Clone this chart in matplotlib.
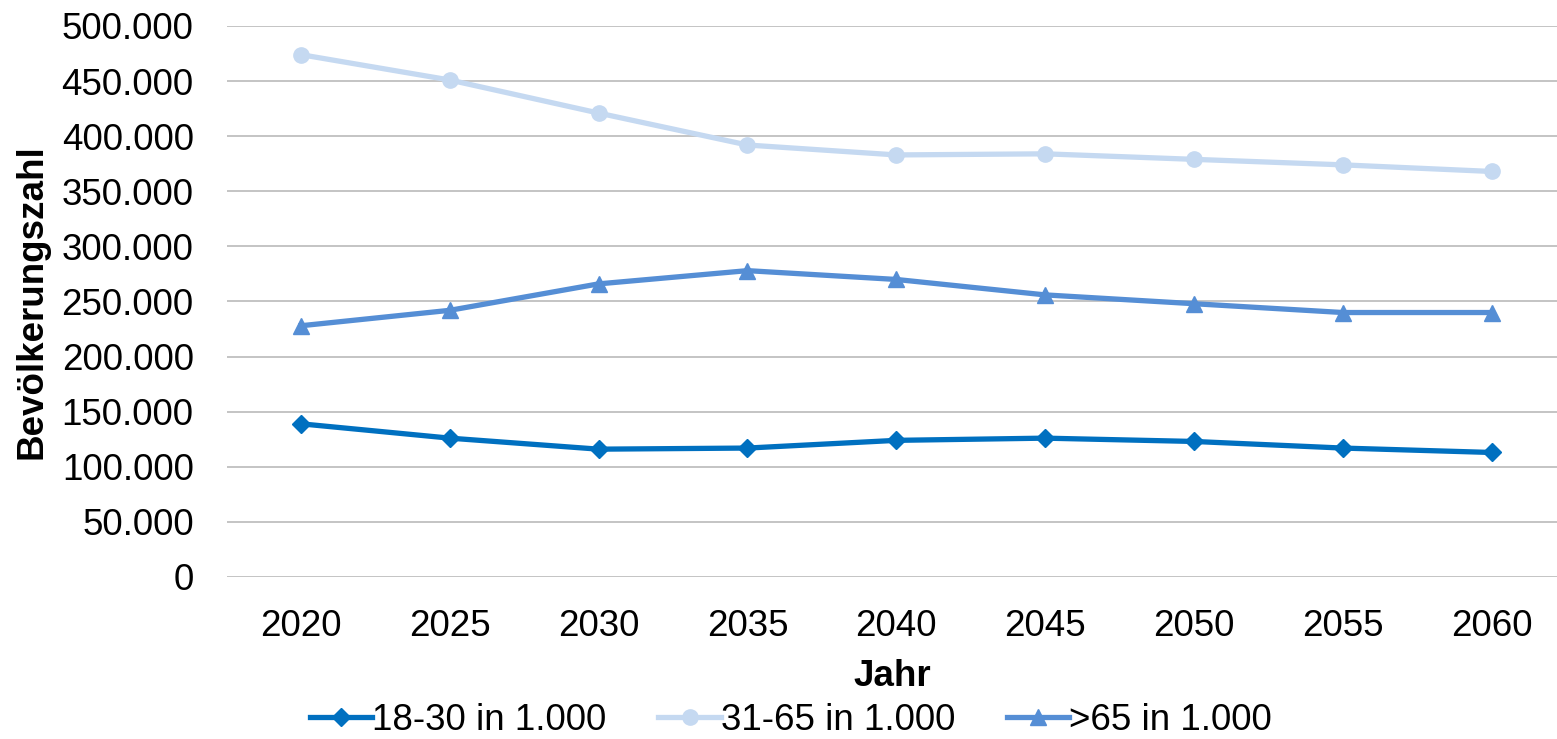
import matplotlib.pyplot as plt
from matplotlib.ticker import FuncFormatter

plt.rcParams['font.family'] = ['Liberation Sans', 'DejaVu Sans']

years = ['2020', '2025', '2030', '2035', '2040', '2045', '2050', '2055', '2060']
age_18_30 = [139000, 126000, 116000, 117000, 124000, 126000, 123000, 117000, 113000]
age_31_65 = [474000, 451000, 421000, 392000, 383000, 384000, 379000, 374000, 368000]
age_65_plus = [228000, 242000, 266000, 278000, 270000, 256000, 248000, 240000, 240000]

fig = plt.figure(figsize=(15.57, 7.39), dpi=100)
ax = fig.add_axes([227 / 1557, 1 - 577 / 739, 1 - 227 / 1557, 551 / 739])

x = range(len(years))
ax.plot(x, age_18_30, color='#0070C0', lw=3.8, marker='D', ms=9.5, label='18-30 in 1.000')
ax.plot(x, age_31_65, color='#C5D9F1', lw=3.8, marker='o', ms=11, label='31-65 in 1.000')
ax.plot(x, age_65_plus, color='#558ED5', lw=3.8, marker='^', ms=11, label='>65 in 1.000')

ax.set_xlim(-0.497, 8.44)
ax.set_ylim(0, 500000)
ax.set_yticks(range(0, 500001, 50000))
ax.yaxis.set_major_formatter(FuncFormatter(lambda v, p: f'{int(v):,}'.replace(',', '.')))
ax.set_xticks(list(x))
ax.set_xticklabels(years)
ax.grid(axis='y', color='#BFBFBF', lw=1.3)
ax.set_axisbelow(True)
for s in ax.spines.values():
    s.set_visible(False)
ax.tick_params(length=0, labelsize=26.5, colors='black')
ax.tick_params(axis='x', pad=23)
ax.tick_params(axis='y', pad=24)

ax.set_xlabel('Jahr', fontsize=26.5, fontweight='bold', labelpad=11)
ax.set_ylabel('Bevölkerungszahl', fontsize=26.5, fontweight='bold', labelpad=9)

fig.legend(loc='center', bbox_to_anchor=(0.508, 1 - 720 / 739), ncol=3, frameon=False,
           fontsize=26.5, handlelength=1.7, handletextpad=0.0, columnspacing=1.4)

fig.savefig('out.png', dpi=100)
